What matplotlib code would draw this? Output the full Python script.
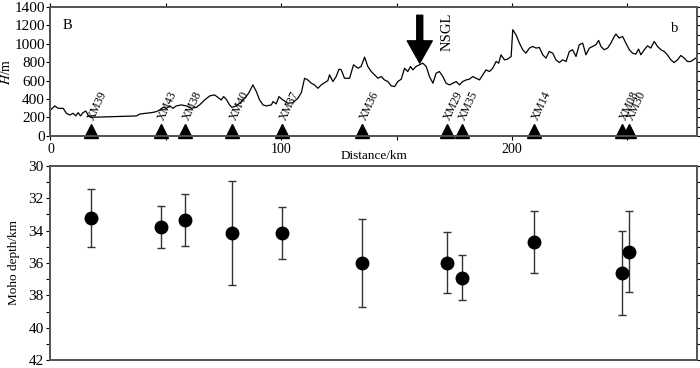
import numpy as np
import matplotlib
matplotlib.use('Agg')
import matplotlib.pyplot as plt
from matplotlib.ticker import MultipleLocator

plt.rcParams['font.family'] = ['Liberation Serif', 'DejaVu Serif']
plt.rcParams['mathtext.fontset'] = 'stix'

# Topography along the profile (distance km, elevation m)
topo_km = [0, 1.9, 3.3, 5.5, 6.9, 8.4, 9.8, 11.0, 12.0, 13.0, 14.1, 15.3, 16.3, 17.3,
           37.2, 38.7, 41.6, 43.7, 45.9, 47.3, 48.8, 50.2, 51.7, 53.1, 54.5, 56.7, 58.9,
           61.0, 63.2, 64.6, 66.8, 69.0, 71.1, 72.6, 74.0, 75.0, 76.2, 77.6, 78.6, 80.5,
           82.7, 84.8, 86.0, 87.7, 89.2, 90.6, 92.1, 93.5, 95.7, 96.4, 97.8, 99.0, 100.7,
           102.9, 105.1, 107.2, 108.7, 110.1, 111.5, 113.0, 114.4, 115.9, 117.3, 118.8,
           120.2, 120.9, 122.4, 123.8, 125.0, 126.0, 127.4, 128.9,
           129.6, 131.3, 133.2, 134.6, 136.1, 137.5, 139.0, 140.4, 141.9, 143.3, 144.7,
           146.2, 147.6, 149.1, 150.5, 152.0, 153.4, 154.8, 156.0, 157.0, 158.4, 159.9,
           161.3, 162.8, 164.2, 165.7, 167.1, 168.5, 170.0, 171.4, 172.9, 174.3, 175.8,
           177.2, 178.6, 180.1, 181.5, 183.0, 184.4, 185.9, 187.3, 188.7, 190.2, 191.6,
           193.1, 194.2, 195.2, 196.7, 198.1, 199.6, 200.3, 201.7, 203.2, 204.6, 206.0,
           207.5, 208.9, 210.4, 211.8, 213.3, 214.7, 216.1, 217.6, 219.0, 220.5, 221.9,
           223.4, 224.8, 226.2, 227.7, 229.1, 230.6, 232.0, 233.5, 234.9, 236.3, 237.5,
           238.5, 239.9, 241.4, 242.8, 244.3, 245.0, 246.4, 247.9, 249.3, 250.8, 252.2,
           253.6, 254.8, 255.8, 257.3, 258.7, 260.1, 261.6, 263.0, 264.5, 265.9, 267.3,
           268.8, 270.2, 271.7, 273.1, 274.6, 276.0, 277.4, 279.6]
topo_m = [280, 324, 298, 298, 244, 225, 244, 215, 251, 215, 251, 269, 225, 200,
          215, 236, 244, 251, 262, 280, 309, 298, 324, 298, 324, 335, 324,
          298, 309, 335, 389, 433, 444, 415, 389, 425, 396, 335, 309, 324,
          371, 425, 469, 553, 480, 389, 335, 324, 335, 371, 346, 425, 389,
          353, 360, 407, 469, 625, 607, 571, 553, 516, 553, 578,
          600, 662, 589, 644, 724, 716, 625, 625,
          625, 771, 734, 753, 855, 753, 698, 662, 625, 644, 607,
          589, 542, 535, 589, 615, 734, 698, 753, 716, 753, 771,
          789, 753, 644, 571, 680, 698, 644, 571, 553, 571, 589,
          553, 589, 607, 615, 644, 625, 607, 662, 716, 698, 734,
          807, 789, 880, 825, 833, 862, 1153, 1098, 1007, 935, 898,
          953, 971, 953, 960, 880, 844, 916, 898, 825, 796, 825,
          807, 916, 935, 862, 989, 1007, 880, 953, 971, 989, 1036,
          971, 935, 953, 1007, 1080, 1105, 1062, 1080, 1007, 935, 898,
          887, 942, 880, 935, 978, 953, 1025, 971, 935, 916, 880,
          825, 796, 825, 873, 844, 807, 807, 844]

# Stations
stations = ['XM39', 'XM43', 'XM38', 'XM40', 'XM37', 'XM36', 'XM29', 'XM35', 'XM14', 'XM08', 'XM30']
station_km = [17.4, 47.7, 58.5, 78.7, 100.3, 135.1, 171.7, 178.1, 209.6, 247.6, 250.8]
moho_depth = [33.2, 33.77, 33.35, 34.15, 34.15, 36.0, 35.97, 36.9, 34.7, 36.6, 35.3]
moho_err = [1.8, 1.3, 1.6, 3.2, 1.6, 2.7, 1.9, 1.4, 1.9, 2.6, 2.5]

nsgl_km = 160.0

fig = plt.figure(figsize=(7, 3.68), dpi=100)
ax1 = fig.add_axes([0.0721, 0.6312, 0.9232, 0.3498])
ax2 = fig.add_axes([0.0721, 0.0217, 0.9232, 0.5273])
ax1.set_zorder(3)

spine_col = '#555555'

# ---- top panel: topography ----
ax1.plot(topo_km, topo_m, color='k', lw=0.9)
ax1.plot(station_km, [55] * len(station_km), '^', color='k', ms=9.5, clip_on=False, zorder=5)
for name, km in zip(stations, station_km):
    ax1.text(km + 0.3, 170, name, rotation=65, rotation_mode='anchor',
             ha='left', va='center', fontsize=8.5)

ax1.annotate('', xy=(nsgl_km, 790), xytext=(nsgl_km, 1310),
             arrowprops=dict(facecolor='k', edgecolor='k', width=4.3,
                             headwidth=18, headlength=16))
ax1.text(171.8, 920, 'NSGL', rotation=90, ha='center', va='bottom', fontsize=10.5)
ax1.text(7.5, 1200, 'B', ha='center', va='center', fontsize=10.5)
ax1.text(270.5, 1170, 'b', ha='center', va='center', fontsize=10.5)

ax1.set_xlim(0, 280)
ax1.set_ylim(0, 1400)
ax1.set_yticks(np.arange(0, 1401, 200))
ax1.set_xticks([0, 100, 200])
ax1.xaxis.set_minor_locator(MultipleLocator(50))
ax1.tick_params(axis='y', labelsize=11, length=3, width=0.8, direction='out', pad=1)
ax1.tick_params(axis='x', labelsize=10, length=3, width=0.8, direction='out', pad=2, top=True)
ax1.tick_params(axis='x', which='minor', length=3, width=0.8, top=True, direction='out')
ax1.set_xlabel('Distance/km', fontsize=9.5, labelpad=-4)
ax1.set_ylabel(r'$H$/m', fontsize=10, labelpad=1)
ax1r = ax1.twinx()
ax1r.set_ylim(0, 1400)
ax1r.yaxis.set_major_locator(MultipleLocator(100))
ax1r.tick_params(axis='y', length=3, width=0.8, labelright=False)
for a in (ax1, ax1r):
    for s in a.spines.values():
        s.set_color(spine_col)
        s.set_linewidth(1.3)

# ---- bottom panel: Moho depth ----
ax2.errorbar(station_km, moho_depth, yerr=moho_err, fmt='o', color='k', ms=9,
             ecolor='#333333', elinewidth=1.0, capsize=3, capthick=1.0)
ax2.set_xlim(0, 280)
ax2.set_ylim(42, 30)
ax2.set_yticks(np.arange(30, 43, 2))
ax2.yaxis.set_minor_locator(MultipleLocator(1))
ax2.set_xticks([])
ax2.tick_params(axis='y', labelsize=11, length=3, width=0.8, pad=2)
ax2.tick_params(axis='y', which='minor', length=3, width=0.8)
ax2.set_ylabel('Moho depth/km', fontsize=9.5, labelpad=6)
ax2r = ax2.twinx()
ax2r.set_ylim(42, 30)
ax2r.yaxis.set_major_locator(MultipleLocator(1))
ax2r.tick_params(axis='y', length=3, width=0.8, labelright=False)
for a in (ax2, ax2r):
    for s in a.spines.values():
        s.set_color(spine_col)
        s.set_linewidth(1.3)

fig.savefig('out.png', dpi=100)
